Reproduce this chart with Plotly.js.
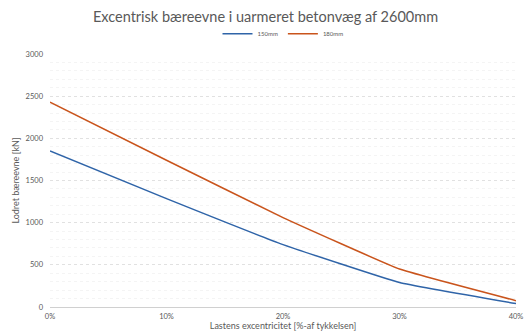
<!DOCTYPE html>
<html><head><meta charset="utf-8">
<script src="https://cdn.plot.ly/plotly-3.0.1.min.js"></script>
<style>html,body{margin:0;padding:0;background:#fff}#c{width:531px;height:334px}</style>
</head><body><div id="c"></div>
<script>
const eccentricity = [0, 0.1, 0.2, 0.3, 0.4];
const series150 = [1850, 1285, 740, 290, 40];
const series180 = [2430, 1740, 1060, 450, 75];
const names = ['150mm', '180mm'];
const colors = ['#2f64a8', '#c9541c'];
const font = 'Lato, "Open Sans", sans-serif';
const traces = [series150, series180].map((y, i) => ({
  x: eccentricity, y: y, type: 'scatter', mode: 'lines', name: names[i],
  line: {color: colors[i], width: 1.5, shape: 'spline', smoothing: 0.3}
}));
const layout = {
  width: 531, height: 334,
  margin: {l: 50, r: 15, t: 54, b: 27},
  paper_bgcolor: '#fff', plot_bgcolor: '#fff',
  font: {family: font, color: '#595959', size: 7.5},
  title: {text: 'Excentrisk bæreevne i uarmeret betonvæg af 2600mm', font: {size: 14.5, color: '#595959', family: font}, x: 0.5, xanchor: 'center', y: 0.95, yanchor: 'middle'},
  showlegend: true,
  legend: {orientation: 'h', x: 0.5, xanchor: 'center', y: 1.08, yanchor: 'middle', font: {size: 6, color: '#595959'}, itemwidth: 30},
  xaxis: {
    range: [0, 0.4], tickvals: eccentricity, tickformat: '.0%', showgrid: false, zeroline: false,
    showline: false, ticks: '', tickfont: {size: 7.5, color: '#595959'}, ticklabelstandoff: 3,
    title: {text: 'Lastens excentricitet [%-af tykkelsen]', font: {size: 9, color: '#595959'}, standoff: 0}
  },
  yaxis: {
    range: [0, 3000], dtick: 500, showgrid: true, gridcolor: '#d9d9d9', griddash: 'dot', gridwidth: 0.8,
    zeroline: true, zerolinecolor: '#d0d0d0', zerolinewidth: 1, ticks: '', tickfont: {size: 7.5, color: '#595959'},
    ticklabelstandoff: 6,
    minor: {dtick: 100, showgrid: true, gridcolor: '#ededed', griddash: 'dot', gridwidth: 0.6},
    title: {text: 'Lodret bæreevne [kN]', font: {size: 9, color: '#595959'}, standoff: 4}
  }
};
Plotly.newPlot('c', traces, layout, {displayModeBar: false, staticPlot: true});
</script></body></html>
